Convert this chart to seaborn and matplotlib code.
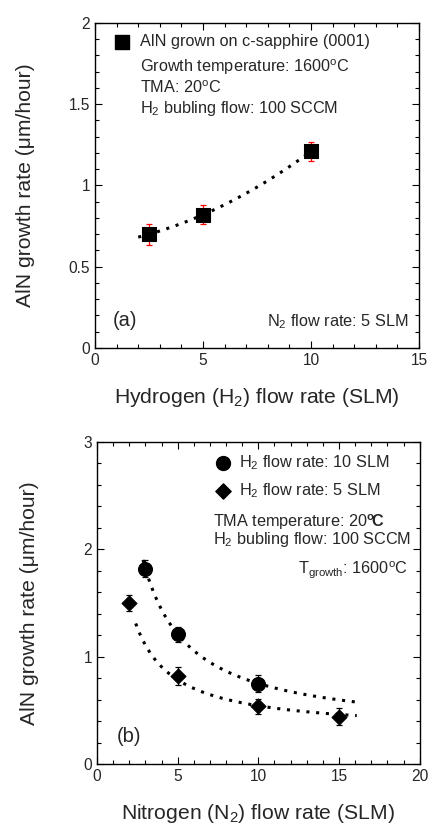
import numpy as np
import pandas as pd
import matplotlib
matplotlib.use("Agg")
import matplotlib.pyplot as plt
from matplotlib.ticker import MultipleLocator
import seaborn as sns

# -------------------------------
# Data
# -------------------------------
# (a) growth rate vs H2 flow, N2 = 5 SLM
h2_flow = [2.5, 5, 10]
rate_a = [0.70, 0.82, 1.21]
err_a = [0.065, 0.06, 0.06]

# (b) growth rate vs N2 flow
n2_flow_h10 = [3, 5, 10]
rate_h10 = [1.82, 1.21, 0.75]
err_h10 = [0.08, 0.07, 0.08]

n2_flow_h5 = [2, 5, 10, 15]
rate_h5 = [1.50, 0.82, 0.54, 0.44]
err_h5 = [0.07, 0.08, 0.07, 0.08]

# extent of the dotted guide lines
fit_range_a = (2.0, 10.3)
fit_range_h10 = (2.85, 16.3)
fit_range_h5 = (2.4, 16.1)

sns.set_style("ticks")
plt.rcParams['font.family'] = ['Liberation Sans', 'DejaVu Sans']
plt.rcParams['mathtext.fontset'] = 'custom'
plt.rcParams['mathtext.rm'] = 'Liberation Sans'
plt.rcParams['mathtext.it'] = 'Liberation Sans:italic'
plt.rcParams['mathtext.bf'] = 'Liberation Sans:bold'

DOT = (0, (1, 2.2))
LABEL_FS = 15.2
TEXT_FS = 11.7


def hyper_guide(x, y, lo, hi):
    # y = c + a/x least squares guide
    a, c = np.polyfit(1.0 / np.asarray(x, float), y, 1)
    xs = np.linspace(lo, hi, 60)
    return xs, c + a / xs


def style_axes(ax):
    ax.tick_params(which='both', direction='in', top=True, right=True,
                   labelsize=11.2, width=0.8, color='black')
    ax.tick_params(which='major', length=5)
    ax.tick_params(which='minor', length=3)
    for s in ax.spines.values():
        s.set_linewidth(1.0)
        s.set_color('black')


fig = plt.figure(figsize=(4.28, 8.24), dpi=100)

# -------------------------------
# Panel (a)
# -------------------------------
ax1 = fig.add_axes([0.222, 0.5777, 0.757, 0.3944])
ca = np.polyfit(h2_flow, rate_a, 2)
xa = np.linspace(*fit_range_a, 40)
sns.lineplot(x=xa, y=np.polyval(ca, xa), ax=ax1, color='black',
             linestyle=DOT, linewidth=2.2)
ax1.errorbar(h2_flow, rate_a, yerr=err_a, fmt='none', ecolor='red',
             elinewidth=0.9, capsize=2.3, capthick=0.9, zorder=3)
sns.scatterplot(x=h2_flow, y=rate_a, ax=ax1, marker='s', s=95,
                color='black', edgecolor='black', zorder=4)
ax1.set_xlim(0, 15)
ax1.set_ylim(0, 2)
ax1.xaxis.set_major_locator(MultipleLocator(5))
ax1.xaxis.set_minor_locator(MultipleLocator(1))
ax1.yaxis.set_major_locator(MultipleLocator(0.5))
ax1.yaxis.set_minor_locator(MultipleLocator(0.1))
ax1.set_yticks([0, 0.5, 1, 1.5, 2], ['0', '0.5', '1', '1.5', '2'])
ax1.set_xlabel('Hydrogen (H$_2$) flow rate (SLM)', fontsize=LABEL_FS, labelpad=13)
ax1.set_ylabel('AlN growth rate (μm/hour)', fontsize=LABEL_FS, labelpad=24)
style_axes(ax1)

ax1.scatter([0.083], [0.942], marker='s', s=95, color='black',
            transform=ax1.transAxes, clip_on=False)
ax1.text(0.139, 0.942, 'AlN grown on c-sapphire (0001)', transform=ax1.transAxes,
         fontsize=TEXT_FS, va='center')
ax1.text(0.139, 0.865, 'Growth temperature: 1600$^{\\rm o}$C', transform=ax1.transAxes,
         fontsize=TEXT_FS, va='center')
ax1.text(0.139, 0.800, 'TMA: 20$^{\\rm o}$C', transform=ax1.transAxes,
         fontsize=TEXT_FS, va='center')
ax1.text(0.139, 0.738, 'H$_2$ bubling flow: 100 SCCM', transform=ax1.transAxes,
         fontsize=TEXT_FS, va='center')
ax1.text(0.055, 0.086, '(a)', transform=ax1.transAxes, fontsize=14.5, va='center')
ax1.text(0.966, 0.08, 'N$_2$ flow rate: 5 SLM', transform=ax1.transAxes,
         fontsize=TEXT_FS, va='center', ha='right')

# -------------------------------
# Panel (b)
# -------------------------------
ax2 = fig.add_axes([0.2266, 0.0728, 0.754, 0.3908])
x1, y1 = hyper_guide(n2_flow_h10, rate_h10, *fit_range_h10)
x2, y2 = hyper_guide(n2_flow_h5, rate_h5, *fit_range_h5)
sns.lineplot(x=x1, y=y1, ax=ax2, color='black', linestyle=DOT,
             linewidth=2.2, sort=False)
sns.lineplot(x=x2, y=y2, ax=ax2, color='black', linestyle=DOT,
             linewidth=2.2, sort=False)
ax2.errorbar(n2_flow_h10, rate_h10, yerr=err_h10, fmt='none', ecolor='black',
             elinewidth=0.9, capsize=2.3, capthick=0.9, zorder=3)
ax2.errorbar(n2_flow_h5, rate_h5, yerr=err_h5, fmt='none', ecolor='black',
             elinewidth=0.9, capsize=2.3, capthick=0.9, zorder=3)
sns.scatterplot(x=n2_flow_h10, y=rate_h10, ax=ax2, marker='o', s=100,
                color='black', edgecolor='black', zorder=4)
sns.scatterplot(x=n2_flow_h5, y=rate_h5, ax=ax2, marker='D', s=60,
                color='black', edgecolor='black', zorder=4)
ax2.set_xlim(0, 20)
ax2.set_ylim(0, 3)
ax2.xaxis.set_major_locator(MultipleLocator(5))
ax2.xaxis.set_minor_locator(MultipleLocator(1))
ax2.yaxis.set_major_locator(MultipleLocator(1))
ax2.yaxis.set_minor_locator(MultipleLocator(0.2))
ax2.set_xlabel('Nitrogen (N$_2$) flow rate (SLM)', fontsize=LABEL_FS, labelpad=13)
ax2.set_ylabel('AlN growth rate (μm/hour)', fontsize=LABEL_FS, labelpad=32)
style_axes(ax2)

ax2.scatter([0.389], [0.935], marker='o', s=100, color='black',
            transform=ax2.transAxes, clip_on=False)
ax2.scatter([0.389], [0.848], marker='D', s=60, color='black',
            transform=ax2.transAxes, clip_on=False)
ax2.text(0.441, 0.935, 'H$_2$ flow rate: 10 SLM', transform=ax2.transAxes,
         fontsize=TEXT_FS, va='center')
ax2.text(0.441, 0.848, 'H$_2$ flow rate: 5 SLM', transform=ax2.transAxes,
         fontsize=TEXT_FS, va='center')
ax2.text(0.361, 0.752, 'TMA temperature: 20$^{\\bf o}\\!\\bf C$', transform=ax2.transAxes,
         fontsize=TEXT_FS, va='center')
ax2.text(0.361, 0.696, 'H$_2$ bubling flow: 100 SCCM', transform=ax2.transAxes,
         fontsize=TEXT_FS, va='center')
ax2.text(0.963, 0.602, 'T$_{\\rm growth}$: 1600$^{\\rm o}$C', transform=ax2.transAxes,
         fontsize=TEXT_FS, va='center', ha='right')
ax2.text(0.06, 0.084, '(b)', transform=ax2.transAxes, fontsize=14.5, va='center')

fig.savefig('out.png', dpi=100)
